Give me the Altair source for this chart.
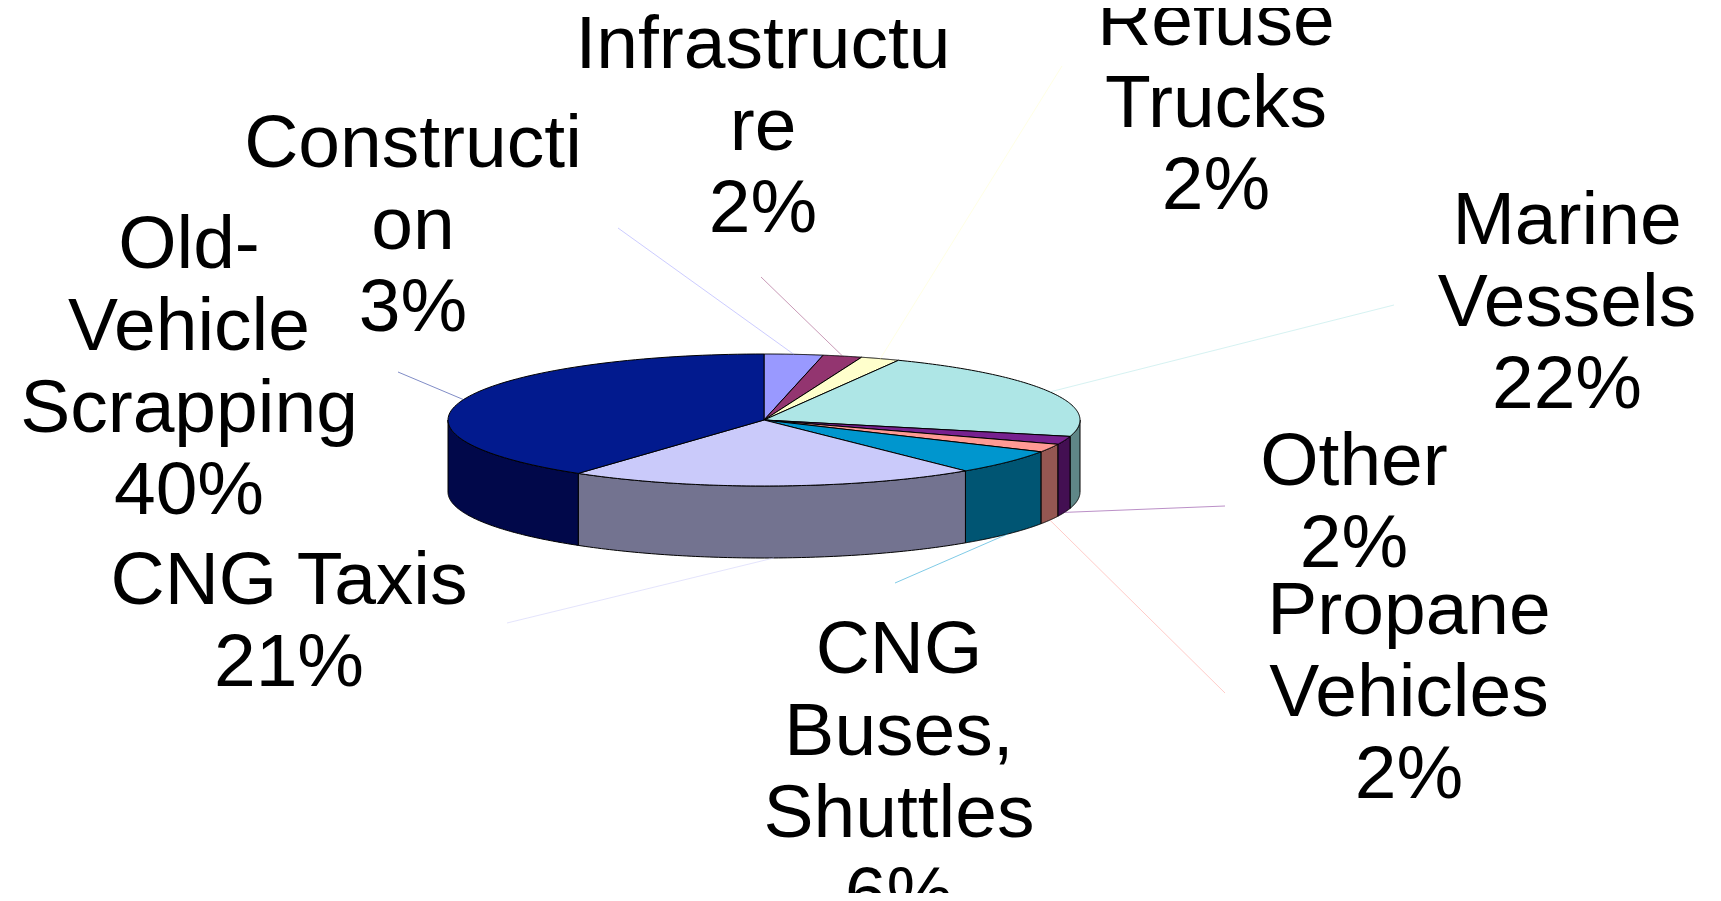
import altair as alt
import pandas as pd

# ---- data ----
categories = [
    "Construction", "Infrastructure", "Refuse Trucks", "Marine Vessels", "Other",
    "Propane Vehicles", "CNG Buses, Shuttles", "CNG Taxis", "Old-Vehicle Scrapping",
]
shares = [3, 2, 2, 22, 2, 2, 6, 21, 40]
label_lines = [
    "Constructi\non\n3%",
    "Infrastructu\nre\n2%",
    "Refuse\nTrucks\n2%",
    "Marine\nVessels\n22%",
    "Other\n2%",
    "Propane\nVehicles\n2%",
    "CNG\nBuses,\nShuttles\n6%",
    "CNG Taxis\n21%",
    "Old-\nVehicle\nScrapping\n40%",
]

# ---- label / leader anchor positions (page pixels) ----
label_x = [413, 763, 1216, 1567, 1354, 1409, 899, 289, 189]
label_y = [167, 68, 45, 244, 485, 634, 673, 604, 268]
leader_x = [618, 761, 1062, 1394, 1225, 1225, 895, 507, 398]
leader_y = [228, 277, 66, 305, 506, 693, 583, 623, 372]

# ---- styles ----
top_colors = ["#9999FF", "#933570", "#FFFFCC", "#AEE6E6", "#77218F",
              "#FF9A94", "#0096CE", "#CACAFA", "#021A8E"]
side_colors = ["#5C5C99", "#581F43", "#99997A", "#5F8787", "#430F52",
               "#955752", "#005573", "#737390", "#01084A"]

# ---- 3-D pie geometry (page pixels) ----
CX, CY, RX, RY, D = 764, 420, 316, 66, 72
N = 90

df = pd.DataFrame({
    "k": list(range(len(categories))),
    "category": categories,
    "share": shares,
    "top": top_colors,
    "side": side_colors,
    "label": label_lines,
    "lx": label_x,
    "ly": label_y,
    "qx": leader_x,
    "qy": leader_y,
})

XS = alt.Scale(domain=[8, 1713], nice=False, zero=False)
YS = alt.Scale(domain=[8, 893], nice=False, zero=False, reverse=True)

base = (
    alt.Chart(df)
    .transform_joinaggregate(total="sum(share)")
    .transform_window(cum="sum(share)", sort=[alt.SortField("k", order="ascending")], frame=[None, 0])
    .transform_calculate(a0="2*PI*(datum.cum - datum.share)/datum.total")
    .transform_calculate(a1="2*PI*datum.cum/datum.total")
)

# side walls: visible front half only, drawn as closed polygons
side = (
    base.transform_calculate(s0="max(datum.a0, PI/2)")
    .transform_calculate(s1="min(datum.a1, 3*PI/2)")
    .transform_filter("datum.s1 > datum.s0")
    .transform_calculate(idx=f"sequence(0, {2 * N + 3})")
    .transform_flatten(["idx"])
    .transform_calculate(j=f"datum.idx <= {N} ? datum.idx : min({2 * N + 1} - datum.idx, {N})")
    .transform_calculate(j2="max(datum.j, 0)")
    .transform_calculate(t=f"datum.s0 + (datum.s1 - datum.s0)*datum.j2/{N}")
    .transform_calculate(px=f"{CX} + {RX}*sin(datum.t)")
    .transform_calculate(py=f"{CY} - {RY}*cos(datum.t) + ((datum.idx > {N} && datum.idx <= {2 * N + 1}) ? {D} : 0)")
    .mark_line(color="black", strokeWidth=1, strokeJoin="round")
    .encode(
        x=alt.X("px:Q", scale=XS, axis=None),
        y=alt.Y("py:Q", scale=YS, axis=None),
        fill=alt.Fill("side:N", scale=None),
        detail="category:N",
        order=alt.Order("idx:Q"),
    )
)

top = (
    base.transform_calculate(idx=f"sequence(-1, {N + 2})")
    .transform_flatten(["idx"])
    .transform_calculate(t=f"datum.a0 + (datum.a1 - datum.a0)*clamp(datum.idx, 0, {N})/{N}")
    .transform_calculate(px=f"(datum.idx < 0 || datum.idx > {N}) ? {CX} : {CX} + {RX}*sin(datum.t)")
    .transform_calculate(py=f"(datum.idx < 0 || datum.idx > {N}) ? {CY} : {CY} - {RY}*cos(datum.t)")
    .mark_line(color="black", strokeWidth=1, strokeJoin="round")
    .encode(
        x=alt.X("px:Q", scale=XS, axis=None),
        y=alt.Y("py:Q", scale=YS, axis=None),
        fill=alt.Fill("top:N", scale=None),
        detail="category:N",
        order=alt.Order("idx:Q"),
    )
)

leaders = (
    base.transform_calculate(am="(datum.a0 + datum.a1)/2")
    .transform_calculate(ex=f"{CX} + {RX}*sin(datum.am)")
    .transform_calculate(ey=f"{CY} - {RY}*cos(datum.am) + (cos(datum.am) < 0 ? {D} : 0)")
    .mark_rule(strokeWidth=1, opacity=0.5)
    .encode(
        x=alt.X("qx:Q", scale=XS, axis=None),
        y=alt.Y("qy:Q", scale=YS, axis=None),
        x2="ex:Q",
        y2="ey:Q",
        stroke=alt.Stroke("top:N", scale=None),
    )
)

labels = (
    alt.Chart(df)
    .mark_text(font="Liberation Sans", fontSize=75, lineHeight=82, align="center",
               baseline="alphabetic", lineBreak="\n", color="black")
    .encode(
        x=alt.X("lx:Q", scale=XS, axis=None),
        y=alt.Y("ly:Q", scale=YS, axis=None),
        text="label:N",
    )
)

chart = (
    alt.layer(side, top, leaders, labels)
    .properties(width=1705, height=885, autosize=alt.AutoSizeParams(type="none"), padding=0,
                background="white")
    .configure_view(stroke=None)
)

chart.save("out.html", embed_options={"renderer": "svg", "actions": False})
